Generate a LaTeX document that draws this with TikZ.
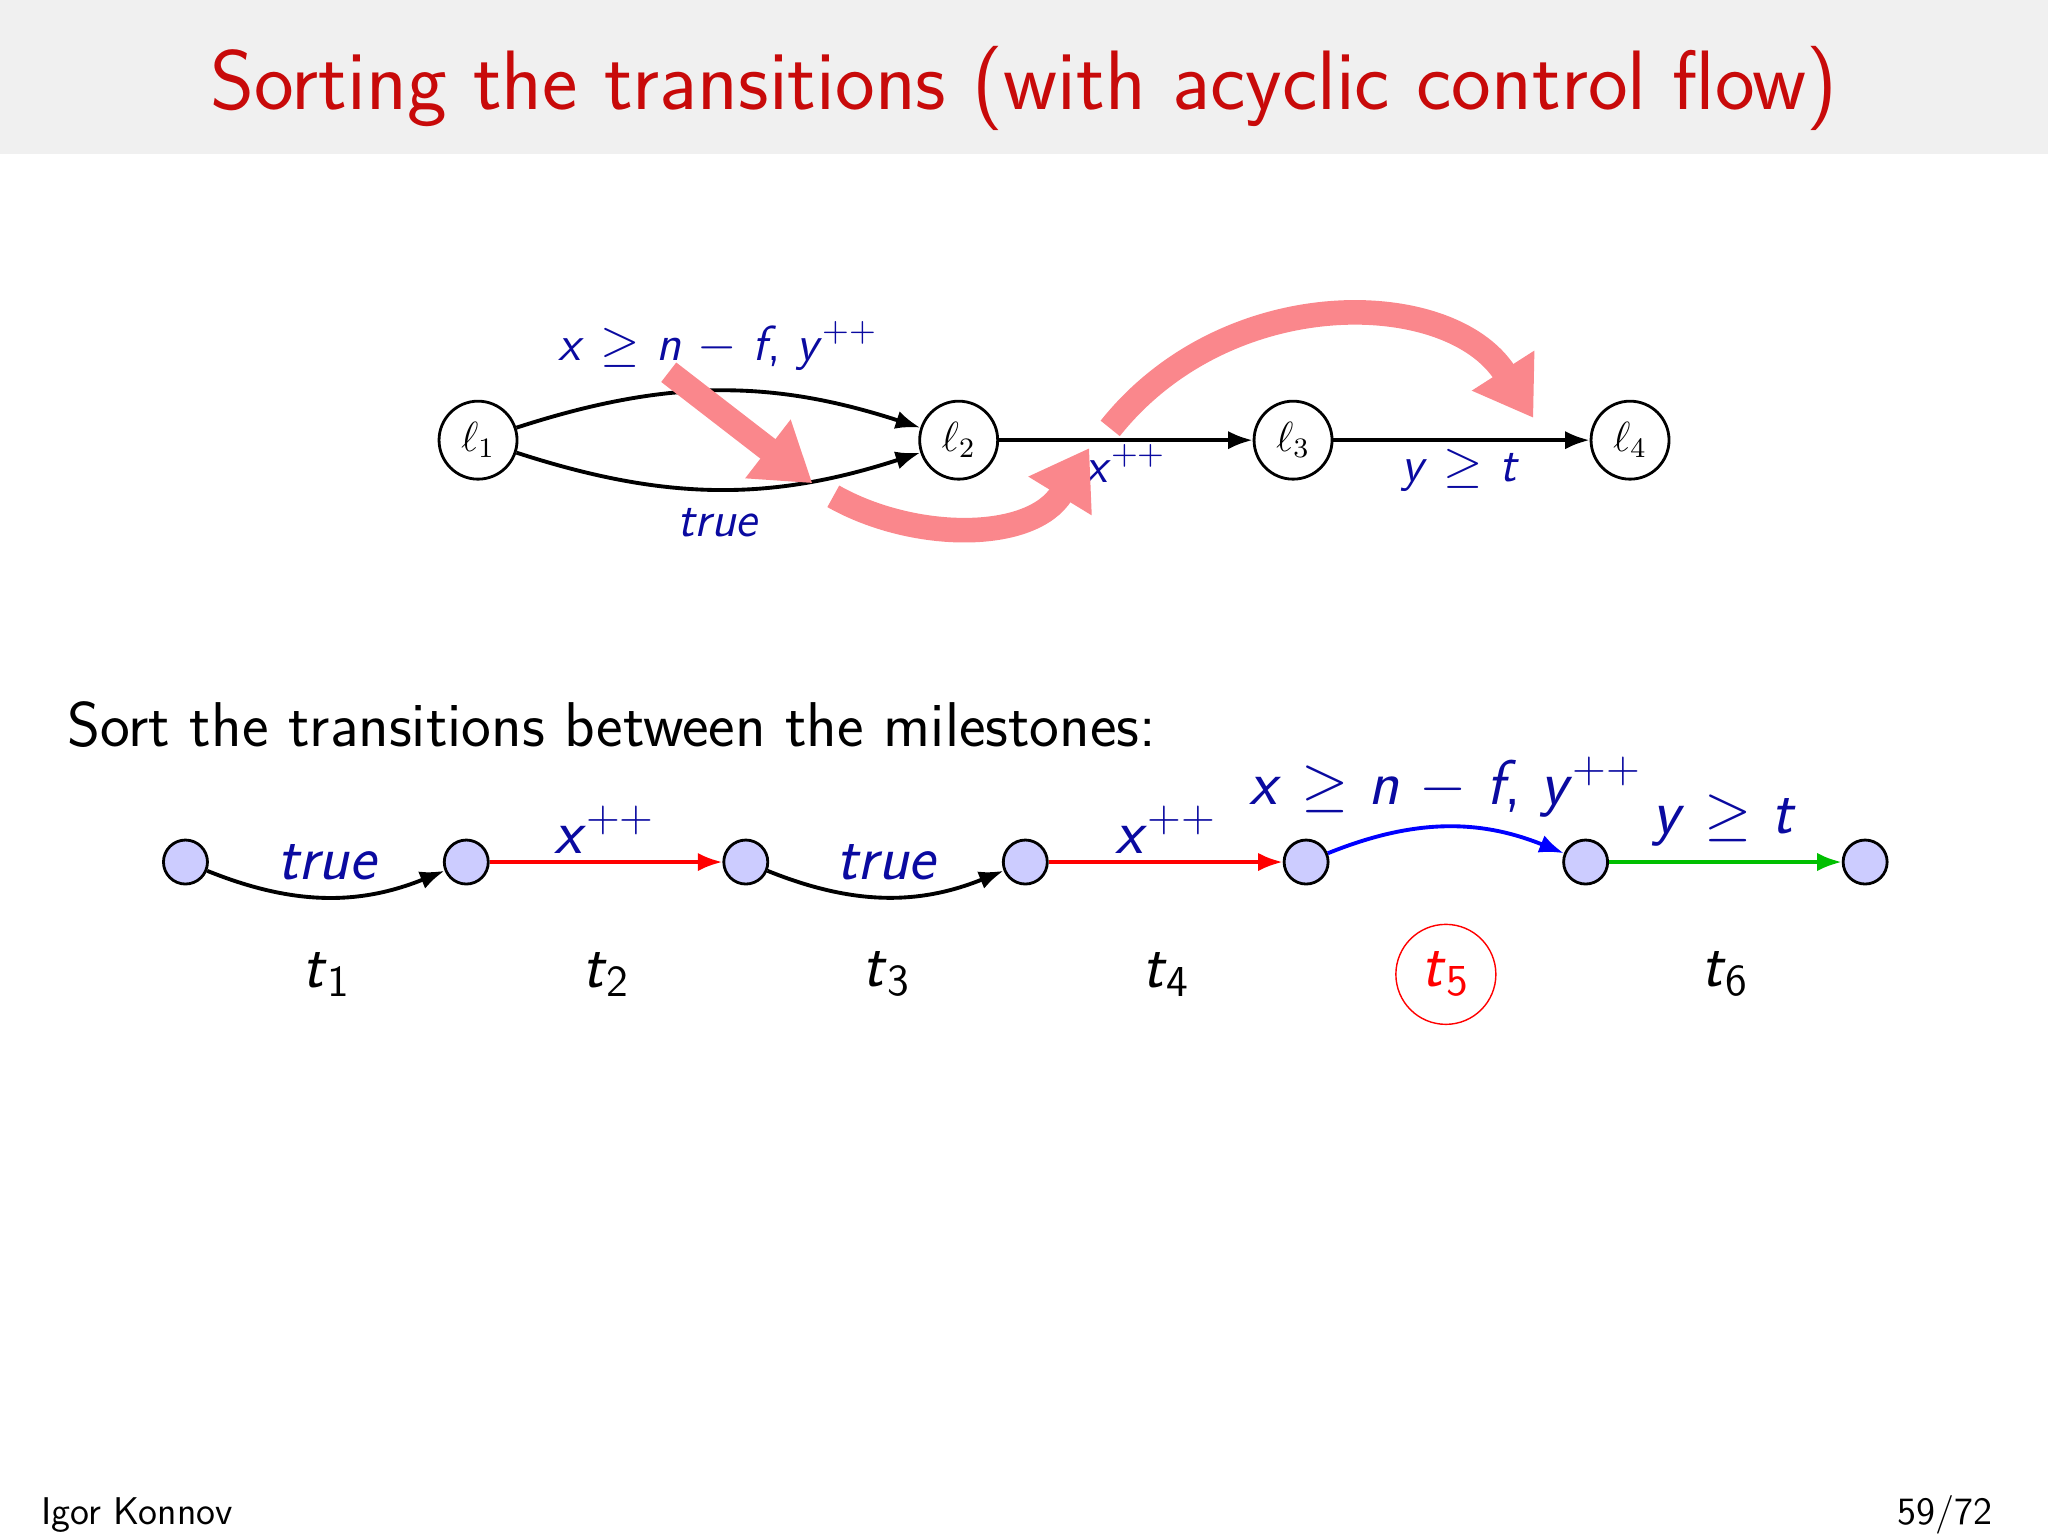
\documentclass[tikz,border=0pt]{standalone}
\usepackage{amsmath}
\usetikzlibrary{arrows.meta}
\renewcommand{\familydefault}{\sfdefault}
\definecolor{tred}{RGB}{200,10,10}
\definecolor{tblue}{RGB}{10,10,160}
\definecolor{lav}{RGB}{204,204,255}
\definecolor{hl}{RGB}{250,135,140}
\newcommand{\mv}[1]{\textsf{\itshape #1}}
\newcommand{\pp}{\textsuperscript{++}}
\newcommand{\tlb}[1]{\mv{t}\textsubscript{#1}}
\begin{document}
\begin{tikzpicture}[x=0.013061cm,y=-0.013061cm,
  loc/.style={circle,draw,thick,minimum size=0.78cm,inner sep=0pt,font=\fontsize{12}{14}\selectfont},
  ms/.style={circle,draw,thick,fill=lav,minimum size=0.44cm,inner sep=0pt},
  edge/.style={line width=1.1pt,-{Latex[length=7pt]}},
  lab/.style={text=tblue,font=\fontsize{14}{16}\selectfont},
  blab/.style={text=tblue,font=\fontsize{18}{20}\selectfont},
  tlab/.style={font=\fontsize{18}{20}\selectfont},
  big/.style={line width=7pt,hl,-{Triangle[length=16pt,width=20pt,fill=hl]}}]
\useasboundingbox (0,0) rectangle (1568,1176);
\fill[black!6] (0,0) rectangle (1568,118);
\node[text=tred,font=\fontsize{24}{30}\selectfont] (title) at (784,68) {Sorting the transitions (with acyclic control flow)};
% top graph
\node[loc] (l1) at (366,337) {$\ell_1$};
\node[loc] (l2) at (734,337) {$\ell_2$};
\node[loc] (l3) at (990,337) {$\ell_3$};
\node[loc] (l4) at (1248,337) {$\ell_4$};
\draw[edge] (l1) to[bend left=18] (l2);
\draw[edge] (l1) to[bend right=18] (l2);
\draw[edge] (l2) -- (l3);
\draw[edge] (l3) -- (l4);
\node[lab] (a1) at (550,265) {\mv{x} $\geq$ \mv{n} $-$ \mv{f}, \mv{y}\pp};
\node[lab] (a2) at (550,400) {\mv{true}};
\node[lab] (a3) at (862,355) {\mv{x}\pp};
\node[lab] (a4) at (1118,360) {\mv{y} $\geq$ \mv{t}};
\coordinate (h1s) at (512,285); \coordinate (h1e) at (622,370);
\coordinate (h2s) at (638,380); \coordinate (h2e) at (834,343);
\coordinate (h3s) at (850,328); \coordinate (h3e) at (1174,320);
\draw[big] (h1s) -- (h1e);
\draw[big] (h2s) .. controls (700,415) and (790,415) .. (h2e);
\draw[big] (h3s) .. controls (940,215) and (1110,220) .. (h3e);
% text
\node[anchor=west,font=\fontsize{18}{22}\selectfont] (sort) at (42,555) {Sort the transitions between the milestones:};
% bottom
\foreach \i/\x in {0/142,1/357,2/571,3/785,4/1000,5/1214,6/1428}{\node[ms] (m\i) at (\x,660) {};}
\draw[edge] (m0) to[bend right=22] (m1);
\draw[edge,red] (m1) -- (m2);
\draw[edge] (m2) to[bend right=22] (m3);
\draw[edge,red] (m3) -- (m4);
\draw[edge,blue] (m4) to[bend left=22] (m5);
\draw[edge,green!75!black] (m5) -- (m6);
\node[blab] (b1) at (251,660) {\mv{true}};
\node[blab] (b2) at (463,635) {\mv{x}\pp};
\node[blab] (b3) at (679,660) {\mv{true}};
\node[blab] (b4) at (893,635) {\mv{x}\pp};
\node[blab] (b5) at (1107,603) {\mv{x} $\geq$ \mv{n} $-$ \mv{f}, \mv{y}\pp};
\node[blab] (b6) at (1320,628) {\mv{y} $\geq$ \mv{t}};
\node[tlab] (t1) at (250,746) {\tlb{1}};
\node[tlab] (t2) at (464,746) {\tlb{2}};
\node[tlab] (t3) at (679,746) {\tlb{3}};
\node[tlab] (t4) at (893,746) {\tlb{4}};
\node[tlab,text=red,circle,draw=red,minimum size=1.0cm] (t5) at (1107,746) {\tlb{5}};
\node[tlab] (t6) at (1321,746) {\tlb{6}};
\node[anchor=west,font=\fontsize{11}{13}\selectfont] (au) at (22,1160) {Igor Konnov};
\node[anchor=east,font=\fontsize{11}{13}\selectfont] (pg) at (1535,1160) {59/72};
\end{tikzpicture}
\end{document}
